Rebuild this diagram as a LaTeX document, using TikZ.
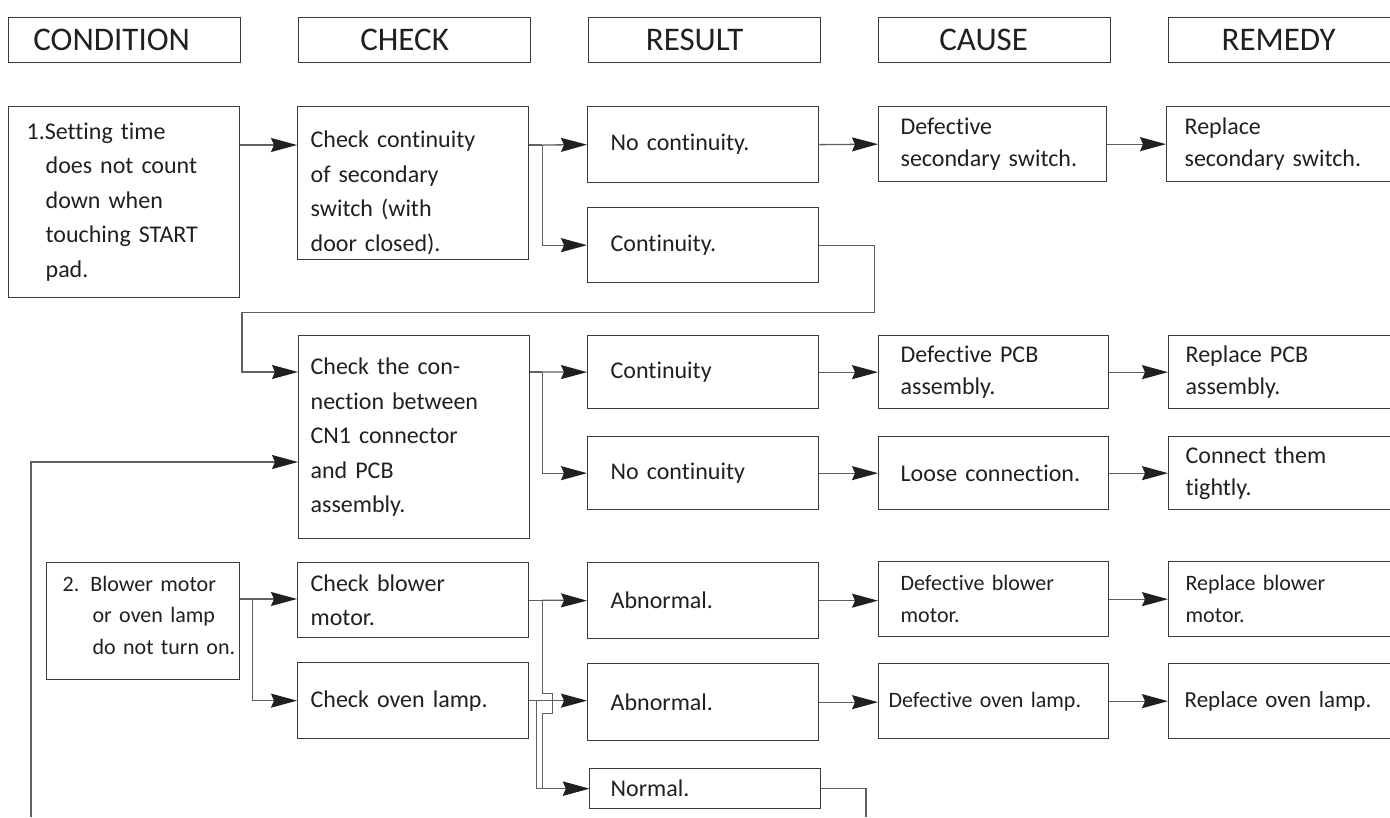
\documentclass[tikz,border=0pt]{standalone}
\usepackage{fontspec}
\setmainfont[Ligatures={NoCommon,NoContextual}, WordSpace=0.7]{Carlito}
\usetikzlibrary{positioning}
\usetikzlibrary{arrows.meta}
\usetikzlibrary{calc}
\definecolor{boxline}{HTML}{3A3A3A}
\definecolor{wire}{HTML}{606060}
\definecolor{ink}{HTML}{231F20}
\tikzset{tips=proper}
\tikzset{%
    head/.style={rectangle, draw=boxline, line width=1.3pt, anchor=north west,
        minimum width=232pt, text width=232pt, minimum height=45pt, inner xsep=0pt,
        align=center, text=ink, font=\fontsize{33}{36}\selectfont},
    box/.style={rectangle, draw=boxline, line width=1.3pt, anchor=north west,
        align=left, text=ink, inner xsep=0pt, inner ysep=0pt,
        font=\fontsize{24}{34.5}\selectfont},
    boxsize/.style 2 args={minimum width=#1, text width=#1, minimum height=#2},
    small/.style={font=\fontsize{22}{31.5}\selectfont},
    wire/.style={draw=wire, line width=1.3pt},
    arrow/.style={wire, -{Stealth[length=26pt,width=14pt,inset=3pt,fill=ink,color=ink]}}
}

\begin{document}
\begin{tikzpicture}[x=1pt, y=-1pt]
    \useasboundingbox (0,0) rectangle (1390,817);
    % column heads
    \node[head] (hcond) at (8,17) {\hspace*{-26pt}CONDITION};
    \node[head] (hcheck) at (298,17) {\hspace*{-20pt}CHECK};
    \node[head] (hres) at (588,17) {\hspace*{-20pt}RESULT};
    \node[head] (hcause) at (878,17) {\hspace*{-22pt}CAUSE};
    \node[head] (hrem) at (1168,17) {\hspace*{-12pt}REMEDY};

    % 1. setting time
    \node[box, boxsize={231pt}{191pt}]
        (cond1) at (8,106) {\hspace*{18pt}1.Setting time\\\hspace*{37pt}does not count\\\hspace*{37pt}down when\\\hspace*{37pt}touching START\\\hspace*{37pt}pad.};
    \node[box, boxsize={231pt}{153pt}]
        (check1) at (297,106) {\rule{0pt}{36pt}\hspace*{13pt}Check continuity\\\hspace*{13pt}of secondary\\\hspace*{13pt}switch (with\\\hspace*{13pt}door closed).};
    \node[box, boxsize={231pt}{76pt}]
        (nocont1) at (587,106) {\hspace*{23pt}No continuity.};
    \node[box, boxsize={231pt}{75pt}]
        (cont1) at (587,207) {\hspace*{23pt}Continuity.};
    \node[box, boxsize={228pt}{75pt}, font=\fontsize{24}{32}\selectfont]
        (cause1) at (878,106) {\hspace*{22pt}Defective\\\hspace*{22pt}secondary switch.};
    \node[box, boxsize={232pt}{75pt}, font=\fontsize{24}{32}\selectfont]
        (rem1) at (1166,106) {\hspace*{18pt}Replace\\\hspace*{18pt}secondary switch.};

    % CN1 connector check
    \node[box, boxsize={231pt}{203pt}]
        (check2) at (298,335) {\hspace*{12pt}Check the con-\\\hspace*{12pt}nection between\\\hspace*{12pt}CN1 connector\\\hspace*{12pt}and PCB\\\hspace*{12pt}assembly.};
    \node[box, boxsize={231pt}{73pt}]
        (cont2) at (587,335) {\hspace*{23pt}Continuity};
    \node[box, boxsize={231pt}{73pt}]
        (nocont2) at (587,436) {\hspace*{23pt}No continuity};
    \node[box, boxsize={230pt}{73pt}, font=\fontsize{24}{32}\selectfont]
        (cause2) at (878,335) {\hspace*{22pt}Defective PCB\\\hspace*{22pt}assembly.};
    \node[box, boxsize={230pt}{73pt}]
        (cause3) at (878,436) {\hspace*{22pt}Loose connection.};
    \node[box, boxsize={232pt}{73pt}, font=\fontsize{24}{32}\selectfont]
        (rem2) at (1168,335) {\hspace*{17pt}Replace PCB\\\hspace*{17pt}assembly.};
    \node[box, boxsize={232pt}{73pt}, font=\fontsize{24}{32}\selectfont]
        (rem3) at (1168,436) {\hspace*{17pt}Connect them\\\hspace*{17pt}tightly.};

    % 2. blower motor / oven lamp
    \node[box, boxsize={193pt}{117pt}, small]
        (cond2) at (46,562) {\hspace*{16pt}2. Blower motor\\\hspace*{46pt}or oven lamp\\\hspace*{46pt}do not turn on.\rule[-12pt]{0pt}{12pt}};
    \node[box, boxsize={231pt}{75pt}]
        (check3) at (297,562) {\hspace*{13pt}Check blower\\\hspace*{13pt}motor.};
    \node[box, boxsize={231pt}{76pt}]
        (check4) at (297,662) {\hspace*{13pt}Check oven lamp.};
    \node[box, boxsize={231pt}{76pt}]
        (abn1) at (587,562) {\hspace*{23pt}Abnormal.};
    \node[box, boxsize={231pt}{77pt}]
        (abn2) at (587,663) {\hspace*{23pt}Abnormal.};
    \node[box, boxsize={231pt}{40pt}]
        (normal) at (589,768) {\hspace*{21pt}Normal.};
    \node[box, boxsize={230pt}{75pt}, small]
        (cause4) at (878,561) {\hspace*{22pt}Defective blower\\\hspace*{22pt}motor.};
    \node[box, boxsize={230pt}{75pt}, small]
        (cause5) at (878,663) {\hspace*{10pt}Defective oven lamp.};
    \node[box, boxsize={232pt}{75pt}, small]
        (rem4) at (1168,561) {\hspace*{17pt}Replace blower\\\hspace*{17pt}motor.};
    \node[box, boxsize={232pt}{75pt}, font=\fontsize{23}{31.5}\selectfont]
        (rem5) at (1168,663) {\hspace*{16pt}Replace oven lamp.};

    % free ends at the lower edge
    \coordinate (back) at (31,817);
    \coordinate (down) at (866,817);

    % connectors, row 1
    \draw[arrow] ($(cond1.north east)+(0,39)$) -- ($(check1.north west)+(0,39)$);
    \draw[wire] ($(check1.north east)+(0,39)$) -- ++(13,0) coordinate (j1);
    \draw[arrow] (j1) -- (nocont1.west);
    \draw[arrow] (j1) |- (cont1.west);
    \draw[arrow] (nocont1.east) -- (cause1.west);
    \draw[arrow] (cause1.east) -- (rem1.west |- cause1.east);
    \draw[arrow] (cont1.east) -- ++(55,0) -- ++(0,67)
        -| ($(check2.north west)+(-56,37)$) -- ($(check2.north west)+(0,37)$);

    % connectors, row 2
    \draw[arrow] (back) |- ($(check2.north west)+(0,127)$);
    \draw[wire] ($(check2.north east)+(0,37)$) -- ++(12,0) coordinate (j2);
    \draw[arrow] (j2) -- (cont2.west);
    \draw[arrow] (j2) |- (nocont2.west);
    \draw[arrow] (cont2.east) -- (cause2.west);
    \draw[arrow] (nocont2.east) -- (cause3.west);
    \draw[arrow] (cause2.east) -- (rem2.west);
    \draw[arrow] (cause3.east) -- (rem3.west);

    % connectors, row 3
    \draw[wire] ($(cond2.north east)+(0,37)$) -- ++(12,0) coordinate (j3);
    \draw[arrow] (j3) -- (j3 -| check3.west);
    \draw[arrow] (j3) |- (check4.west);
    \draw[wire] (check3.east) -- ++(13,0) coordinate (j4);
    \draw[arrow] (j4) -- (abn1.west);
    \draw[wire] (check4.east) -- ++(7,0) coordinate (j5);
    \draw[arrow] (j5) -- (j5 -| abn2.west);
    \draw[arrow] (j4) -- ++(0,93) -- ++(10,0) -- ++(0,20) -- ++(-10,0) |- (normal.west);
    \draw[arrow] (j5) |- (normal.west);
    \draw[wire] (normal.east) -| (down);
    \draw[arrow] (abn1.east) -- (abn1.east -| cause4.west);
    \draw[arrow] (abn2.east) -- (abn2.east -| cause5.west);
    \draw[arrow] (cause4.east) -- (cause4.east -| rem4.west);
    \draw[arrow] (cause5.east) -- (cause5.east -| rem5.west);
\end{tikzpicture}
\end{document}
